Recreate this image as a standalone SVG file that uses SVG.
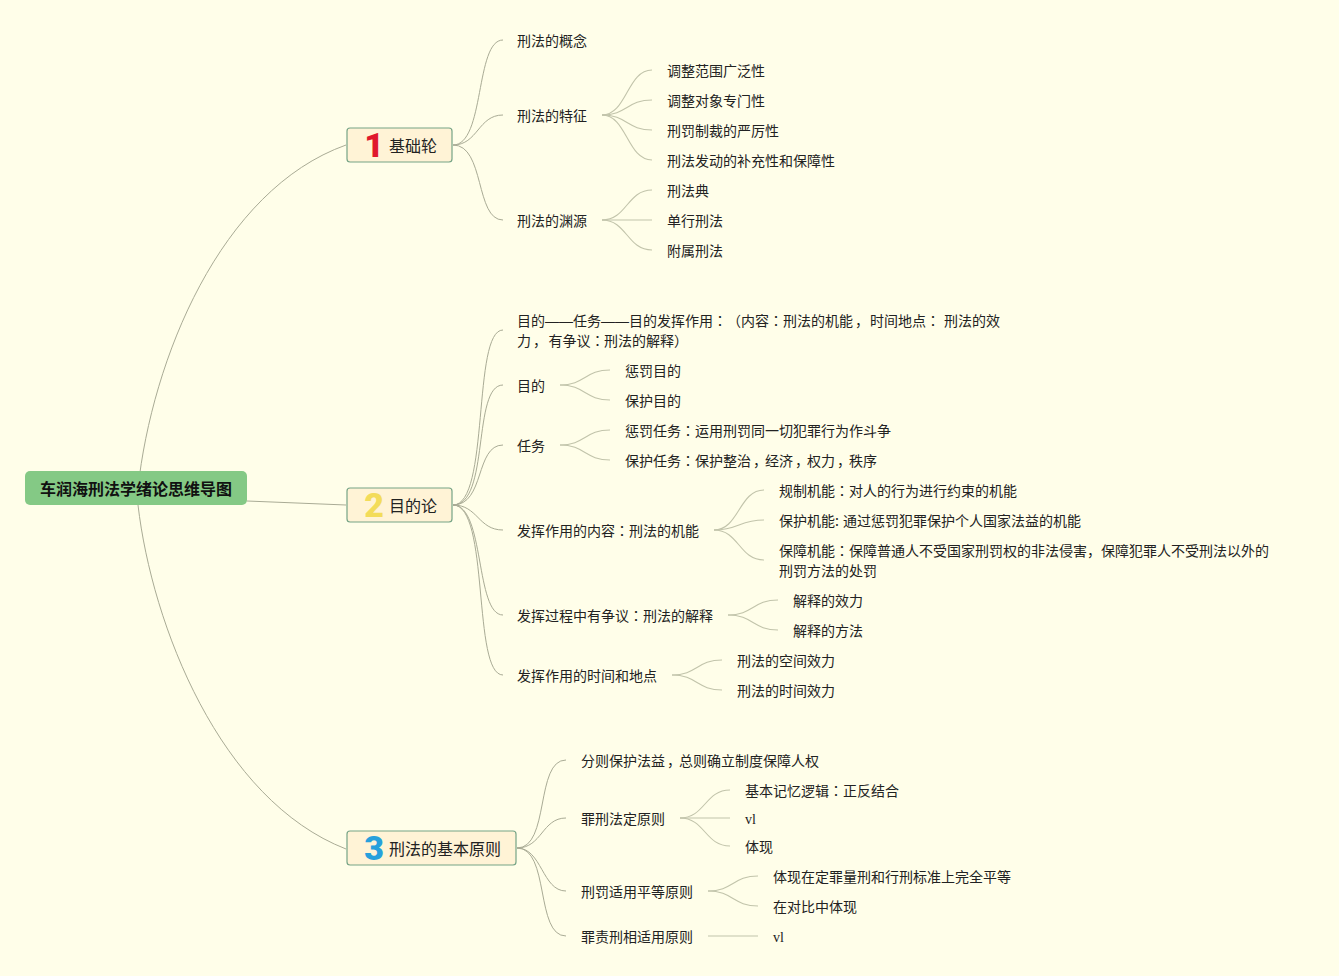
<svg xmlns="http://www.w3.org/2000/svg" width="1339" height="976" viewBox="0 0 1339 976">
<style>
text{font-family:"Noto Sans CJK SC","Noto Sans",sans-serif;font-size:14px;fill:#222}
.c{font-family:"Noto Sans CJK TC",sans-serif}
.d{font-family:"Liberation Sans",sans-serif}
.s{font-family:"Liberation Serif",serif}
.t{font-size:16px}
.r{font-size:16px;font-weight:700;fill:#111}
.b{fill:#fff3d6;stroke:#76a486;stroke-width:1.2}
.n{font-family:"Roboto","Noto Sans",sans-serif;font-size:34px;font-weight:900;text-anchor:middle}
#conn path{fill:none;stroke:#a9ab95;stroke-width:1}
#conn .l2{stroke:#c2c4ab;stroke-width:1.1}
</style>
<rect width="1339" height="976" fill="#fffee9"/>
<g id="conn">
<path d="M138 488C152 360 220 190 346 145"/>
<path d="M138 505C152 625 220 800 346 849"/>
<path d="M247 501L346 505"/>
<path d="M453 145C485 145 475 40 503 40"/>
<path d="M453 145C478 145 478 115 503 115"/>
<path d="M453 145C485 145 475 220 503 220"/>
<path class="l2" d="M602 115C627 115 627 70 652 70"/>
<path class="l2" d="M602 115C627 115 627 100 652 100"/>
<path class="l2" d="M602 115C627 115 627 130 652 130"/>
<path class="l2" d="M602 115C627 115 627 160 652 160"/>
<path class="l2" d="M602 220C627 220 627 190 652 190"/>
<path class="l2" d="M602 220H652"/>
<path class="l2" d="M602 220C627 220 627 250 652 250"/>
<path d="M453 505C490 505 472 330 503 330"/>
<path d="M453 505C490 505 472 385 503 385"/>
<path d="M453 505C485 505 475 445 503 445"/>
<path d="M453 505C478 505 478 530 503 530"/>
<path d="M453 505C485 505 475 615 503 615"/>
<path d="M453 505C490 505 472 675 503 675"/>
<path class="l2" d="M560 385C585 385 585 370 610 370"/>
<path class="l2" d="M560 385C585 385 585 400 610 400"/>
<path class="l2" d="M560 445C585 445 585 430 610 430"/>
<path class="l2" d="M560 445C585 445 585 460 610 460"/>
<path class="l2" d="M714 530C739 530 739 490 764 490"/>
<path class="l2" d="M714 530C739 530 739 520 764 520"/>
<path class="l2" d="M714 530C739 530 739 560 764 560"/>
<path class="l2" d="M728 615C753 615 753 600 778 600"/>
<path class="l2" d="M728 615C753 615 753 630 778 630"/>
<path class="l2" d="M672 675C697 675 697 660 722 660"/>
<path class="l2" d="M672 675C697 675 697 690 722 690"/>
<path d="M517 848C550 848 535 760 566 760"/>
<path d="M517 848C542 848 542 818 566 818"/>
<path d="M517 848C542 848 542 891 566 891"/>
<path d="M517 848C550 848 535 936 566 936"/>
<path class="l2" d="M680 818C705 818 705 790 730 790"/>
<path class="l2" d="M680 818H730"/>
<path class="l2" d="M680 818C705 818 705 846 730 846"/>
<path class="l2" d="M708 891C733 891 733 876 758 876"/>
<path class="l2" d="M708 891C733 891 733 906 758 906"/>
<path class="l2" d="M708 936H758"/>
</g>
<g id="root"><rect x="25" y="471" width="222" height="34" rx="5" fill="#84c985"/><text class="r" x="40" y="494.500">车润海刑法学绪论思维导图</text></g>
<g id="n1"><rect class="b" x="347" y="128" width="105" height="34" rx="3"/><text class="n" x="374" y="157" style="fill:#e0182d">1</text><text class="t" x="389" y="152">基础轮</text></g>
<g id="n2"><rect class="b" x="347" y="488" width="105" height="34" rx="3"/><text class="n" x="374" y="517" style="fill:#f3dc5a">2</text><text class="t" x="389" y="512">目的论</text></g>
<g id="n3"><rect class="b" x="347" y="831" width="169" height="34" rx="3"/><text class="n" x="374" y="860" style="fill:#27a0dc">3</text><text class="t" x="389" y="855">刑法的基本原则</text></g>
<g id="a1"><text x="517" y="46">刑法的概念</text></g>
<g id="a2"><text x="517" y="121">刑法的特征</text></g>
<g id="a21"><text x="667" y="76">调整范围广泛性</text></g>
<g id="a22"><text x="667" y="106">调整对象专门性</text></g>
<g id="a23"><text x="667" y="136">刑罚制裁的严厉性</text></g>
<g id="a24"><text x="667" y="166">刑法发动的补充性和保障性</text></g>
<g id="a3"><text x="517" y="226">刑法的渊源</text></g>
<g id="a31"><text x="667" y="196">刑法典</text></g>
<g id="a32"><text x="667" y="226">单行刑法</text></g>
<g id="a33"><text x="667" y="256">附属刑法</text></g>
<g id="b1"><text x="517" y="326">目的<tspan class="d" x="545 559">——</tspan><tspan x="573">任务</tspan><tspan class="d" x="601 615">——</tspan><tspan x="629">目的发挥作用</tspan><tspan class="c" x="713">：</tspan><tspan x="727" class="c">（</tspan><tspan x="741">内容</tspan><tspan class="c" x="769">：</tspan><tspan x="783">刑法的机能</tspan><tspan x="855">，</tspan><tspan x="870">时间地点</tspan><tspan class="c" x="926">：</tspan><tspan x="944">刑法的效</tspan></text><text x="517" y="346">力<tspan x="533">，</tspan><tspan x="548.500">有争议</tspan><tspan class="c" x="590.500">：</tspan><tspan x="604">刑法的解释）</tspan></text></g>
<g id="b2"><text x="517" y="391">目的</text></g>
<g id="b21"><text x="625" y="376">惩罚目的</text></g>
<g id="b22"><text x="625" y="406">保护目的</text></g>
<g id="b3"><text x="517" y="451">任务</text></g>
<g id="b31"><text x="625" y="436">惩罚任务<tspan class="c">：</tspan>运用刑罚同一切犯罪行为作斗争</text></g>
<g id="b32"><text x="625" y="466">保护任务<tspan class="c">：</tspan>保护整治<tspan x="753">，</tspan><tspan x="765">经济</tspan><tspan x="795">，</tspan><tspan x="807">权力</tspan><tspan x="837">，</tspan><tspan x="849">秩序</tspan></text></g>
<g id="b4"><text x="517" y="536">发挥作用的内容<tspan class="c">：</tspan>刑法的机能</text></g>
<g id="b41"><text x="779" y="496">规制机能<tspan class="c">：</tspan>对人的行为进行约束的机能</text></g>
<g id="b42"><text x="779" y="526">保护机能:<tspan x="843">通过惩罚犯罪保护个人国家法益的机能</tspan></text></g>
<g id="b43"><text x="779" y="556">保障机能<tspan class="c">：</tspan>保障普通人不受国家刑罚权的非法侵害<tspan x="1087">，</tspan><tspan x="1101">保障犯罪人不受刑法以外的</tspan></text><text x="779" y="576">刑罚方法的处罚</text></g>
<g id="b5"><text x="517" y="621">发挥过程中有争议<tspan class="c">：</tspan>刑法的解释</text></g>
<g id="b51"><text x="793" y="606">解释的效力</text></g>
<g id="b52"><text x="793" y="636">解释的方法</text></g>
<g id="b6"><text x="517" y="681">发挥作用的时间和地点</text></g>
<g id="b61"><text x="737" y="666">刑法的空间效力</text></g>
<g id="b62"><text x="737" y="696">刑法的时间效力</text></g>
<g id="c1"><text x="581" y="766">分则保护法益<tspan x="667">，</tspan><tspan x="679">总则确立制度保障人权</tspan></text></g>
<g id="c2"><text x="581" y="824">罪刑法定原则</text></g>
<g id="c21"><text x="745" y="796">基本记忆逻辑<tspan class="c">：</tspan>正反结合</text></g>
<g id="c22"><text class="s" x="745" y="824">vl</text></g>
<g id="c23"><text x="745" y="852">体现</text></g>
<g id="c3"><text x="581" y="897">刑罚适用平等原则</text></g>
<g id="c31"><text x="773" y="882">体现在定罪量刑和行刑标准上完全平等</text></g>
<g id="c32"><text x="773" y="912">在对比中体现</text></g>
<g id="c4"><text x="581" y="942">罪责刑相适用原则</text></g>
<g id="c41"><text class="s" x="773" y="942">vl</text></g>
</svg>
